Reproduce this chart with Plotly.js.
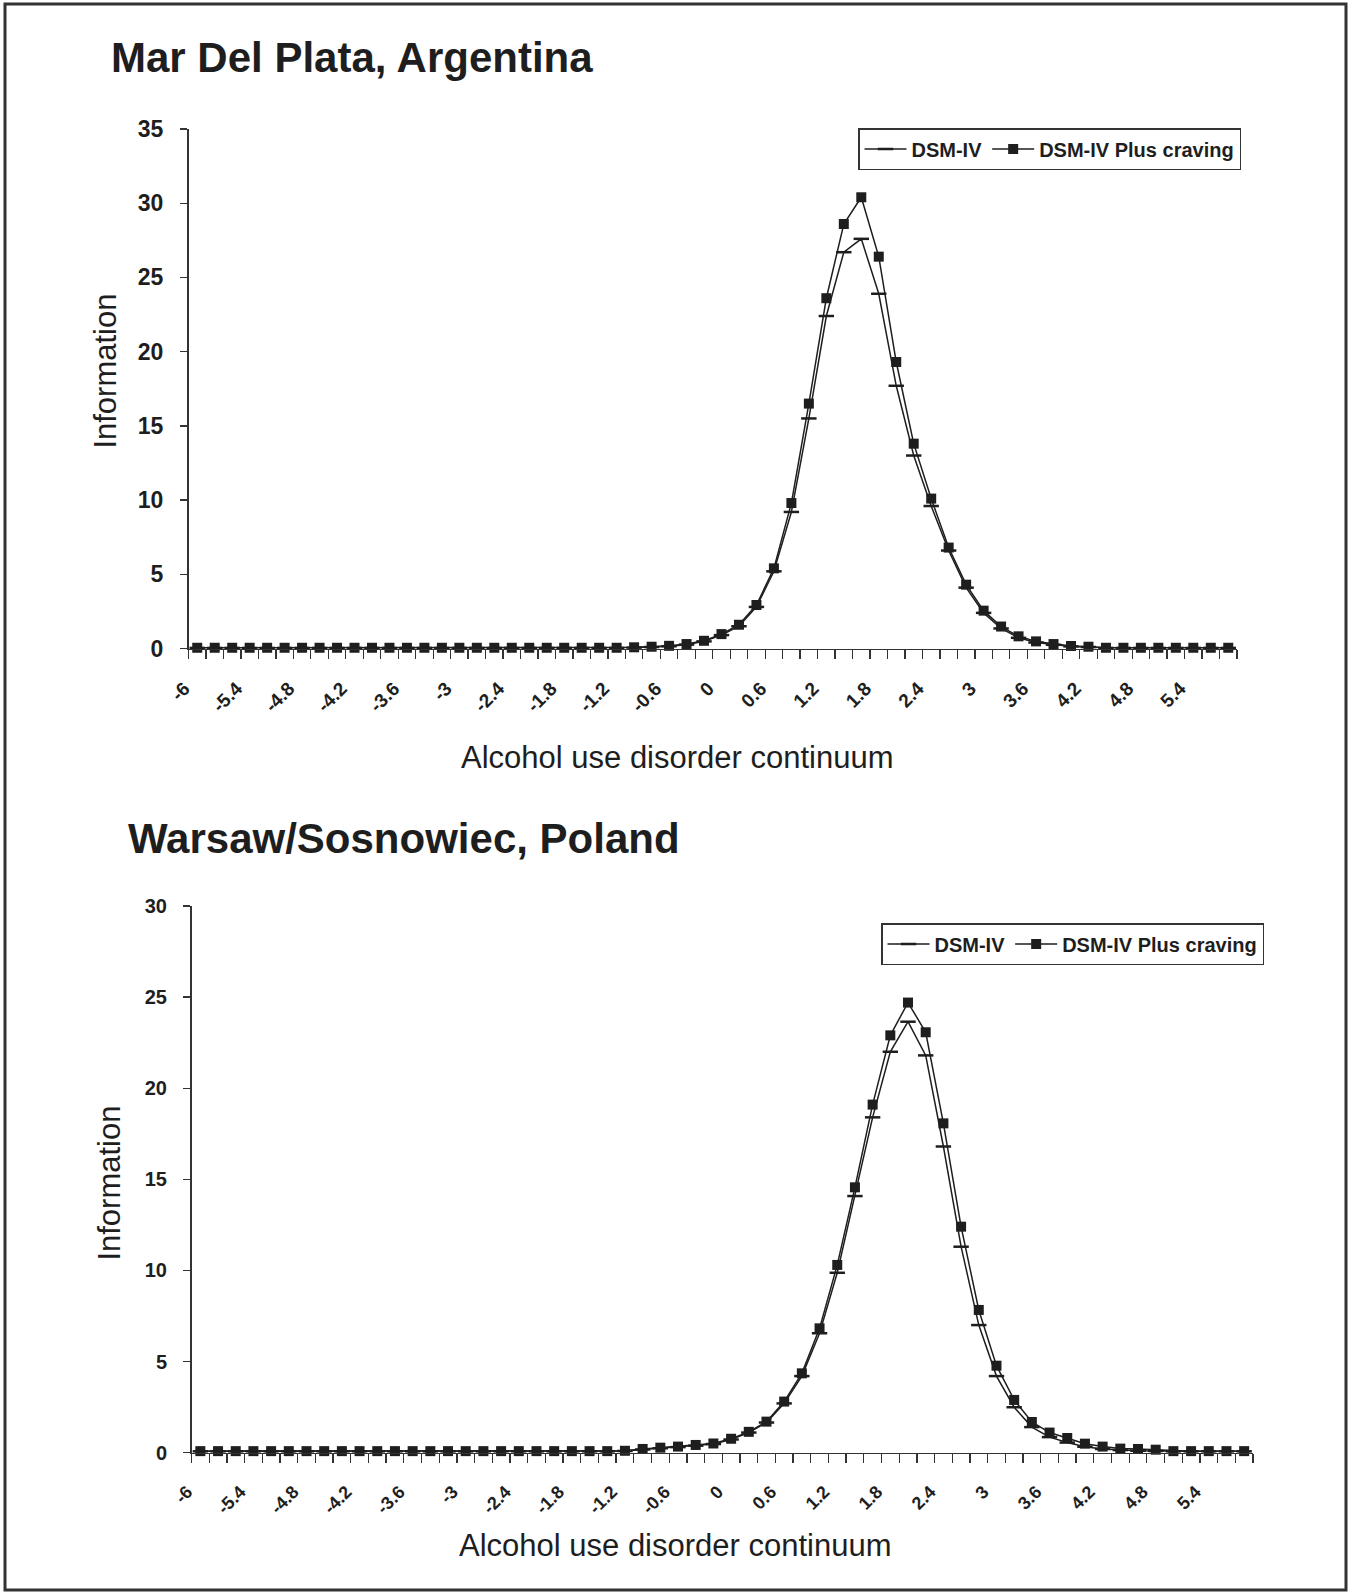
<!DOCTYPE html>
<html>
<head>
<meta charset="utf-8">
<script src="https://cdn.plot.ly/plotly-3.0.1.min.js"></script>
<style>
html,body{margin:0;padding:0;background:#fff;}
#chart{width:1351px;height:1593px;}
</style>
</head>
<body>
<div id="chart"></div>
<script>
// Alcohol use disorder continuum (categories)
const continuum = [-6,-5.8,-5.6,-5.4,-5.2,-5,-4.8,-4.6,-4.4,-4.2,-4,-3.8,-3.6,-3.4,-3.2,-3,-2.8,-2.6,-2.4,-2.2,-2,-1.8,-1.6,-1.4,-1.2,-1,-0.8,-0.6,-0.4,-0.2,
                   0,0.2,0.4,0.6,0.8,1,1.2,1.4,1.6,1.8,2,2.2,2.4,2.6,2.8,3,3.2,3.4,3.6,3.8,4,4.2,4.4,4.6,4.8,5,5.2,5.4,5.6,5.8];

// Tick labels shown on the x axis
const tickValues = [-6,-5.4,-4.8,-4.2,-3.6,-3,-2.4,-1.8,-1.2,-0.6,0,0.6,1.2,1.8,2.4,3,3.6,4.2,4.8,5.4];
const tickLabels = ["-6","-5.4","-4.8","-4.2","-3.6","-3","-2.4","-1.8","-1.2","-0.6","0","0.6","1.2","1.8","2.4","3","3.6","4.2","4.8","5.4"];

// Mar Del Plata, Argentina
const argDSM = [0.04,0.04,0.04,0.04,0.04,0.04,0.04,0.04,0.04,0.04,0.04,0.04,0.04,0.04,0.04,0.04,0.04,0.04,0.04,0.04,0.04,0.04,0.04,0.04,0.04,
                0.06,0.1,0.15,0.26,0.48,0.9,1.5,2.8,5.2,9.2,15.5,22.4,26.7,27.6,23.9,17.7,13.0,9.6,6.6,4.1,2.4,1.35,0.72,0.4,0.25,0.14,0.1,
                0.04,0.04,0.04,0.04,0.04,0.04,0.04,0.04];
const argCraving = [0.05,0.05,0.05,0.05,0.05,0.05,0.05,0.05,0.05,0.05,0.05,0.05,0.05,0.05,0.05,0.05,0.05,0.05,0.05,0.05,0.05,0.05,0.05,0.05,0.05,
                    0.08,0.12,0.18,0.3,0.52,0.97,1.6,2.93,5.4,9.8,16.5,23.6,28.6,30.4,26.4,19.3,13.8,10.1,6.8,4.3,2.55,1.48,0.82,0.48,0.3,0.17,0.12,
                    0.05,0.05,0.05,0.05,0.05,0.05,0.05,0.05];

// Warsaw/Sosnowiec, Poland
const polDSM = [0.07,0.07,0.07,0.07,0.07,0.07,0.07,0.07,0.07,0.07,0.07,0.07,0.07,0.07,0.07,0.07,0.07,0.07,0.07,0.07,0.07,0.07,0.07,0.07,
                0.09,0.17,0.24,0.3,0.38,0.47,0.72,1.1,1.65,2.7,4.2,6.55,9.87,14.08,18.4,22.0,23.65,21.8,16.8,11.3,7.0,4.2,2.49,1.4,0.85,0.55,0.32,0.2,0.14,0.1,0.09,
                0.07,0.07,0.07,0.07,0.07];
const polCraving = [0.08,0.08,0.08,0.08,0.08,0.08,0.08,0.08,0.08,0.08,0.08,0.08,0.08,0.08,0.08,0.08,0.08,0.08,0.08,0.08,0.08,0.08,0.08,0.08,
                    0.1,0.2,0.27,0.33,0.42,0.5,0.76,1.14,1.7,2.8,4.35,6.82,10.3,14.56,19.1,22.9,24.7,23.07,18.07,12.4,7.83,4.77,2.89,1.68,1.1,0.8,0.49,0.33,0.22,0.2,0.16,
                    0.08,0.08,0.08,0.08,0.08];

const seriesNames = ["DSM-IV", "DSM-IV Plus craving"];
const panelTitles = ["Mar Del Plata, Argentina", "Warsaw/Sosnowiec, Poland"];
const axisTitleX = "Alcohol use disorder continuum";
const axisTitleY = "Information";

const W = 1351, H = 1593;
const px = v => v / W;
const py = v => 1 - v / H;
const INK = '#1e1e1e';
const FONT = 'Liberation Sans, Arial, Helvetica, sans-serif';

function dashTrace(y, xa, ya, lg) {
  return {x: continuum, y: y, xaxis: xa, yaxis: ya, legend: lg, name: seriesNames[0],
    type: 'scatter', mode: 'lines+markers', cliponaxis: false,
    line: {color: INK, width: 1.5},
    marker: {symbol: 'line-ew', size: 11, color: INK, line: {width: 2.5, color: INK}}};
}
function squareTrace(y, xa, ya, lg) {
  return {x: continuum, y: y, xaxis: xa, yaxis: ya, legend: lg, name: seriesNames[1],
    type: 'scatter', mode: 'lines+markers', cliponaxis: false,
    line: {color: INK, width: 1.5},
    marker: {symbol: 'square', size: 10, color: INK, line: {width: 0}}};
}

const data = [
  dashTrace(argDSM, 'x', 'y', 'legend'),
  squareTrace(argCraving, 'x', 'y', 'legend'),
  dashTrace(polDSM, 'x2', 'y2', 'legend2'),
  squareTrace(polCraving, 'x2', 'y2', 'legend2')
];

function xaxisDef(dom, anchor, fsize) {
  return {domain: dom, anchor: anchor, range: [-6.1, 5.9], type: 'linear',
    tickmode: 'array', tickvals: tickValues, ticktext: tickLabels,
    ticks: '', tickangle: -45, ticklabelshift: -13, ticklabelstandoff: 20,
    tickfont: {family: FONT, size: fsize, color: INK, weight: 'bold'},
    showline: true, linecolor: '#333', linewidth: 1.5, showgrid: false, zeroline: false,
    minor: {tickmode: 'linear', tick0: -6.1, dtick: 0.2, ticks: 'outside', ticklen: 9,
            tickwidth: 1.3, tickcolor: '#333', showgrid: false}};
}
function yaxisDef(dom, anchor, rng, fsize) {
  return {domain: dom, anchor: anchor, range: rng, dtick: 5, tick0: 0,
    ticks: 'outside', ticklen: 7, tickwidth: 1.3, tickcolor: '#333', ticklabelstandoff: 12,
    tickfont: {family: FONT, size: fsize, color: INK, weight: 'bold'},
    showline: true, linecolor: '#333', linewidth: 1.5, showgrid: false, zeroline: false};
}

const legendDef = (xr, yt) => ({orientation: 'h', x: px(xr), xanchor: 'right', y: py(yt), yanchor: 'top',
  bgcolor: '#fff', bordercolor: '#333', borderwidth: 1.5, itemwidth: 42,
  font: {family: FONT, size: 20, color: INK, weight: 'bold'}});

const layout = {
  width: W, height: H,
  margin: {l: 0, r: 0, t: 0, b: 0, pad: 0},
  paper_bgcolor: '#fff', plot_bgcolor: '#fff',
  showlegend: true,
  xaxis: xaxisDef([px(188.5), px(1237)], 'y', 19),
  yaxis: yaxisDef([py(648.5), py(129)], 'x', [0, 35], 23),
  xaxis2: xaxisDef([px(191.5), px(1253)], 'y2', 18),
  yaxis2: yaxisDef([py(1452.6), py(906)], 'x2', [0, 30], 20),
  legend: legendDef(1241, 128),
  legend2: legendDef(1264, 923),
  shapes: [{type: 'rect', xref: 'paper', yref: 'paper', x0: px(5), x1: px(1346), y0: py(1590), y1: py(4),
            line: {color: '#333', width: 3}, fillcolor: 'rgba(0,0,0,0)'}],
  annotations: [
    {text: panelTitles[0], xref: 'paper', yref: 'paper', x: px(109), y: py(57), xanchor: 'left', yanchor: 'middle',
     showarrow: false, font: {family: FONT, size: 42, color: INK, weight: 'bold'}},
    {text: panelTitles[1], xref: 'paper', yref: 'paper', x: px(126), y: py(839), xanchor: 'left', yanchor: 'middle',
     showarrow: false, font: {family: FONT, size: 42, color: INK, weight: 'bold'}},
    {text: axisTitleY, xref: 'paper', yref: 'paper', x: px(104.6), y: py(371), textangle: -90, xanchor: 'center', yanchor: 'middle',
     showarrow: false, font: {family: FONT, size: 31, color: INK}},
    {text: axisTitleY, xref: 'paper', yref: 'paper', x: px(108.6), y: py(1183), textangle: -90, xanchor: 'center', yanchor: 'middle',
     showarrow: false, font: {family: FONT, size: 31, color: INK}},
    {text: axisTitleX, xref: 'paper', yref: 'paper', x: px(677.5), y: py(757), xanchor: 'center', yanchor: 'middle',
     showarrow: false, font: {family: FONT, size: 31, color: INK}},
    {text: axisTitleX, xref: 'paper', yref: 'paper', x: px(675.5), y: py(1545), xanchor: 'center', yanchor: 'middle',
     showarrow: false, font: {family: FONT, size: 31, color: INK}}
  ]
};

Plotly.newPlot('chart', data, layout, {displayModeBar: false, staticPlot: true});
</script>
</body>
</html>
